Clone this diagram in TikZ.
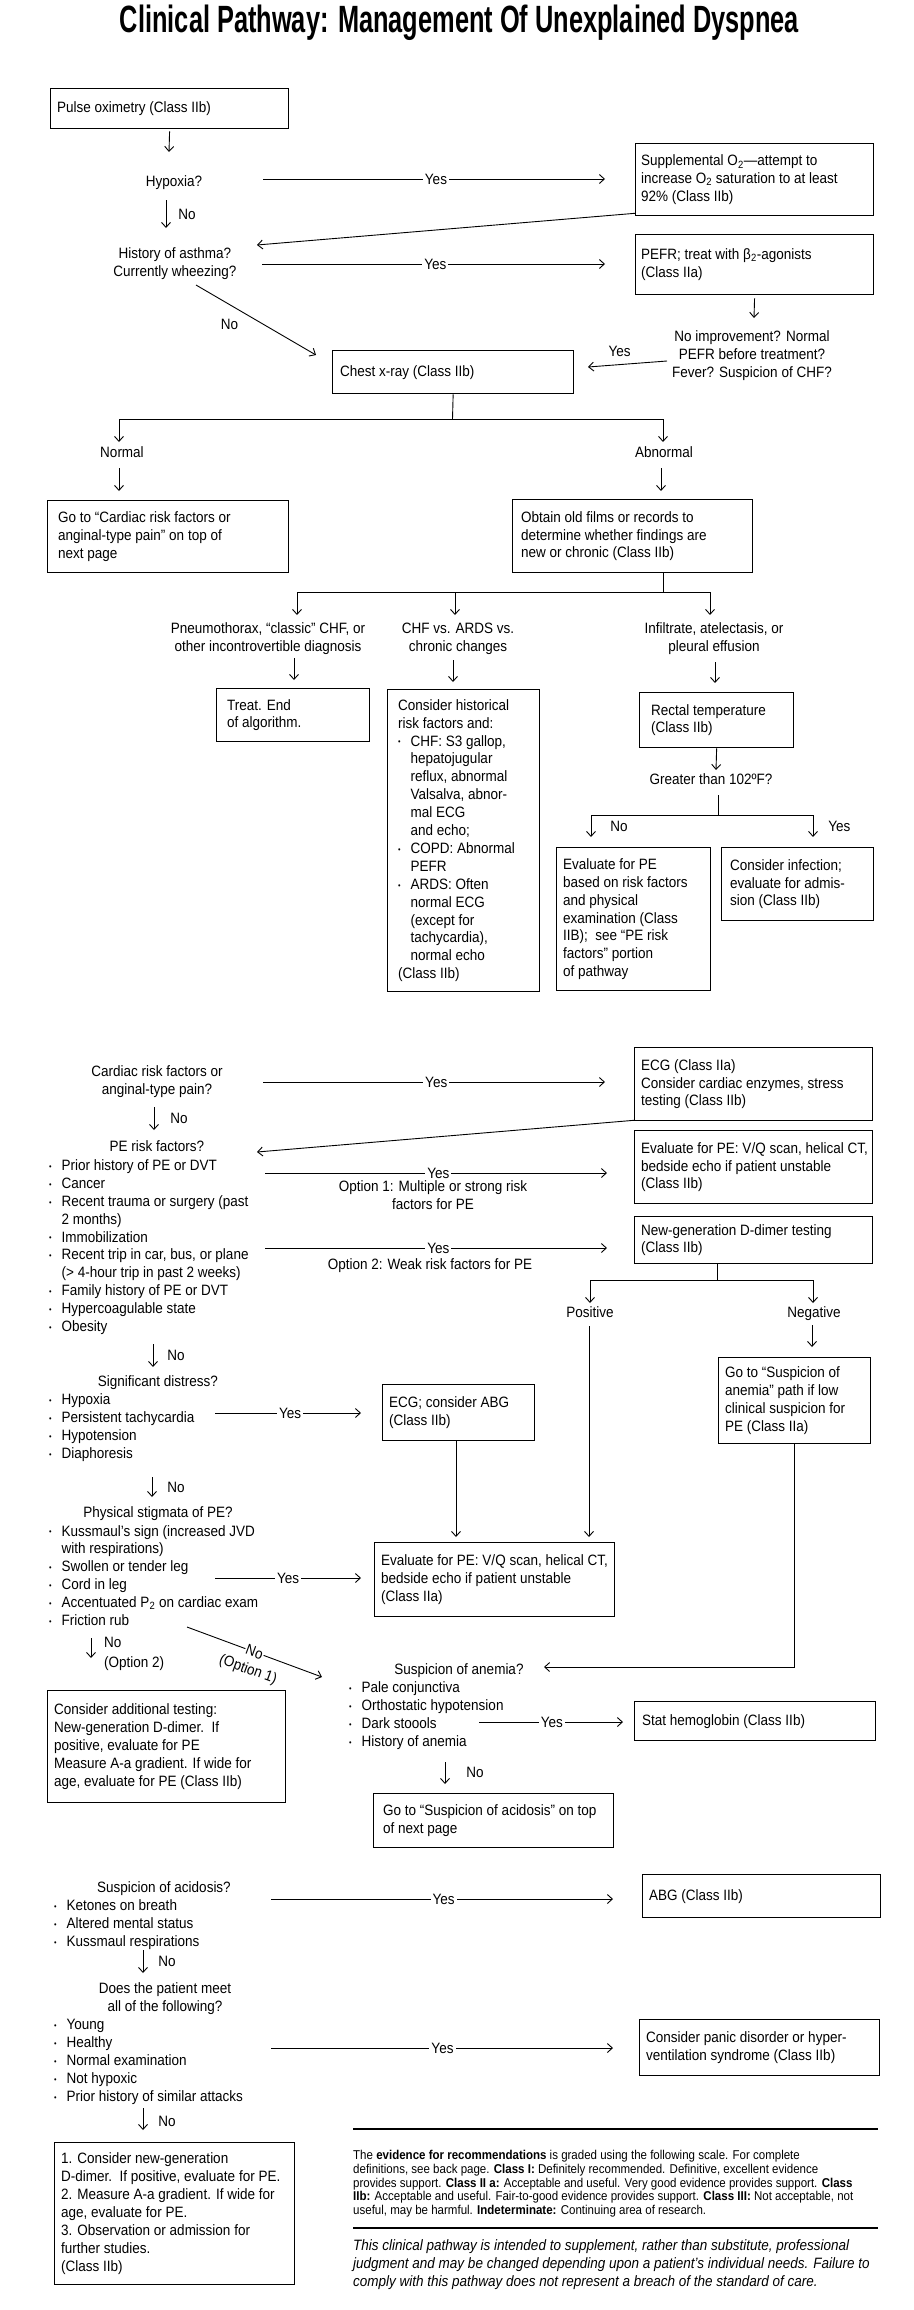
\documentclass[tikz,border=0pt]{standalone}
\usepackage{fontspec}
\setmainfont{Liberation Sans}[FakeStretch=0.9]
\usepackage{graphicx}
\usetikzlibrary{arrows.meta}
\newcommand{\bodyfont}{\fontsize{15}{17.9}\selectfont}
\newcommand{\evfont}{\fontsize{12.8}{13.6}\selectfont}
\newcommand{\bul}{\makebox[12.5pt][l]{\raisebox{1.2pt}{\fontsize{8}{8}\selectfont\textbullet}}}
\newcommand{\bind}{\hspace*{12.5pt}}
\newcommand{\tbx}[7]{%
  \node[boxst,minimum width=#4,minimum height=#5,anchor=north west] (#1) at (#2,#3) {};
  \node[txt,anchor=west] (#1-t) at ([xshift=#6]#1.west) {#7};}
\tikzset{
  boxst/.style={draw,line width=1.3pt,inner sep=0},
  txt/.style={inner sep=0,align=left,font=\bodyfont},
  ctxt/.style={inner sep=0,align=center,font=\bodyfont},
  arr/.style={line width=0.9pt,-{Straight Barb[length=5pt,width=9pt,line width=0.9pt]}},
  ln/.style={line width=0.9pt},
  yes/.style={fill=white,inner xsep=2pt,inner ysep=1pt,font=\bodyfont},
  lbl/.style={inner sep=0,font=\bodyfont,align=left},
}
\begin{document}
\begin{tikzpicture}[x=1pt,y=-1pt]
\fill[white] (0,0) rectangle (913,2310);
\useasboundingbox (0,0) rectangle (913,2310);

% title
\node[inner sep=0,anchor=base] (title) at (459.5,32.5) {\resizebox{679pt}{\height}{\fontsize{38}{42}\selectfont\bfseries Clinical Pathway: Management Of Unexplained Dyspnea}};

% boxes
\tbx{pulse}{50}{88}{238}{40}{7}{Pulse oximetry (Class IIb)}
\tbx{supp}{635}{143}{238}{72}{6}{Supplemental O\textsubscript{2}---attempt to\\increase O\textsubscript{2} saturation to at least\\92\% (Class IIb)}
\tbx{pefr}{635}{234}{238}{60}{6}{PEFR; treat with β\textsubscript{2}-agonists\\(Class IIa)}
\tbx{chest}{332}{350}{241}{43}{8}{Chest x-ray (Class IIb)}
\tbx{normbox}{47}{500}{241}{72}{11}{Go to ``Cardiac risk factors or\\anginal-type pain'' on top of\\next page}
\tbx{obtain}{512}{499}{240}{73}{9}{Obtain old films or records to\\determine whether findings are\\new or chronic (Class IIb)}
\tbx{treat}{216}{688}{153}{53}{11}{Treat. End\\of algorithm.}
\tbx{hist}{387}{689}{152}{302}{11}{Consider historical\\risk factors and:\\\bul CHF: S3 gallop,\\\bind hepatojugular\\\bind reflux, abnormal\\\bind Valsalva, abnor-\\\bind mal ECG\\\bind and echo;\\\bul COPD: Abnormal\\\bind PEFR\\\bul ARDS: Often\\\bind normal ECG\\\bind (except for\\\bind tachycardia),\\\bind normal echo\\(Class IIb)}
\tbx{rectal}{639}{692}{154}{55}{12}{Rectal temperature\\(Class IIb)}
\tbx{evalpeA}{556}{847}{154}{143}{7}{Evaluate for PE\\based on risk factors\\and physical\\examination (Class\\IIB);\ \ see ``PE risk\\factors'' portion\\of pathway}
\tbx{infect}{721}{847}{152}{73}{9}{Consider infection;\\evaluate for admis-\\sion (Class IIb)}
\tbx{ecg}{634}{1047}{238}{73}{7}{ECG (Class IIa)\\Consider cardiac enzymes, stress\\testing (Class IIb)}
\tbx{evalpeB}{634}{1130}{238}{73}{7}{Evaluate for PE: V/Q scan, helical CT,\\bedside echo if patient unstable\\(Class IIb)}
\tbx{ddimer}{634}{1216}{238}{47}{7}{New-generation D-dimer testing\\(Class IIb)}
\tbx{anemgo}{718}{1357}{152}{86}{7}{Go to ``Suspicion of\\anemia'' path if low\\clinical suspicion for\\PE (Class IIa)}
\tbx{ecgabg}{382}{1384}{152}{56}{7}{ECG; consider ABG\\(Class IIb)}
\tbx{evalpeC}{374}{1542}{240}{74}{7}{Evaluate for PE: V/Q scan, helical CT,\\bedside echo if patient unstable\\(Class IIa)}
\tbx{addtest}{47}{1690}{238}{112}{7}{Consider additional testing:\\New-generation D-dimer.\ \ If\\positive, evaluate for PE\\Measure A-a gradient. If wide for\\age, evaluate for PE (Class IIb)}
\tbx{stat}{634}{1701}{241}{39}{8}{Stat hemoglobin (Class IIb)}
\tbx{acidgo}{373}{1793}{240}{54}{10}{Go to ``Suspicion of acidosis'' on top\\of next page}
\tbx{abg}{642}{1874}{238}{43}{7}{ABG (Class IIb)}
\tbx{panic}{639}{2019}{240}{56}{7}{Consider panic disorder or hyper-\\ventilation syndrome (Class IIb)}
\tbx{final}{54}{2142}{240}{142}{7}{1. Consider new-generation\\D-dimer.\ \ If positive, evaluate for PE.\\2. Measure A-a gradient. If wide for\\age, evaluate for PE.\\3. Observation or admission for\\further studies.\\(Class IIb)}

% free texts (anchor base = baseline of the last line)
\node[ctxt,anchor=base] (hypq) at (174,186.5) {Hypoxia?};
\node[ctxt,anchor=base] (asthq) at (175,276) {History of asthma?\\Currently wheezing?};
\node[ctxt,anchor=base] (noimp) at (752,377.5) {No improvement? Normal\\PEFR before treatment?\\Fever? Suspicion of CHF?};
\node[ctxt,anchor=base] (normal) at (122,457.5) {Normal};
\node[ctxt,anchor=base] (abnormal) at (664,457.5) {Abnormal};
\node[ctxt,anchor=base] (pneumo) at (268,651.5) {Pneumothorax, ``classic'' CHF, or\\other incontrovertible diagnosis};
\node[ctxt,anchor=base] (chfv) at (458,651.5) {CHF vs. ARDS vs.\\chronic changes};
\node[ctxt,anchor=base] (infil) at (714,651.5) {Infiltrate, atelectasis, or\\pleural effusion};
\node[ctxt,anchor=base] (temp) at (711,784.5) {Greater than 102ºF?};
\node[ctxt,anchor=base] (cardq) at (157,1094.5) {Cardiac risk factors or\\anginal-type pain?};
\node[ctxt,anchor=base] (peq) at (157,1151.5) {PE risk factors?};
\node[txt,anchor=base west] (pelist) at (49,1331.5) {\bul Prior history of PE or DVT\\\bul Cancer\\\bul Recent trauma or surgery (past\\\bind 2 months)\\\bul Immobilization\\\bul Recent trip in car, bus, or plane\\\bind (> 4-hour trip in past 2 weeks)\\\bul Family history of PE or DVT\\\bul Hypercoagulable state\\\bul Obesity};
\node[ctxt,anchor=base] (opt1) at (433,1209.5) {Option 1: Multiple or strong risk\\factors for PE};
\node[ctxt,anchor=base] (opt2) at (430,1269.5) {Option 2: Weak risk factors for PE};
\node[ctxt,anchor=base] (pos) at (590,1317.5) {Positive};
\node[ctxt,anchor=base] (neg) at (814,1317.5) {Negative};
\node[ctxt,anchor=base] (distq) at (158,1386.5) {Significant distress?};
\node[txt,anchor=base west] (distlist) at (49,1458.5) {\bul Hypoxia\\\bul Persistent tachycardia\\\bul Hypotension\\\bul Diaphoresis};
\node[ctxt,anchor=base] (stigq) at (158,1517.5) {Physical stigmata of PE?};
\node[txt,anchor=base west] (stiglist) at (49,1625.5) {\bul Kussmaul’s sign (increased JVD\\\bind with respirations)\\\bul Swollen or tender leg\\\bul Cord in leg\\\bul Accentuated P\textsubscript{2} on cardiac exam\\\bul Friction rub};
\node[lbl,anchor=base west] (opt2lbl) at (104,1667.5) {No\\[2pt](Option 2)};
\node[ctxt,anchor=base] (anemq) at (459,1674.5) {Suspicion of anemia?};
\node[txt,anchor=base west] (anemlist) at (349,1746.5) {\bul Pale conjunctiva\\\bul Orthostatic hypotension\\\bul Dark stoools\\\bul History of anemia};
\node[ctxt,anchor=base] (acidq) at (164,1892.5) {Suspicion of acidosis?};
\node[txt,anchor=base west] (acidlist) at (54,1946.5) {\bul Ketones on breath\\\bul Altered mental status\\\bul Kussmaul respirations};
\node[ctxt,anchor=base] (meetq) at (165,2011.5) {Does the patient meet\\all of the following?};
\node[txt,anchor=base west] (meetlist) at (54,2101.5) {\bul Young\\\bul Healthy\\\bul Normal examination\\\bul Not hypoxic\\\bul Prior history of similar attacks};

% evidence notes
\coordinate (r1a) at (353,2129); \coordinate (r1b) at (878,2129);
\coordinate (r2a) at (353,2228); \coordinate (r2b) at (878,2228);
\draw[line width=1.2pt] (r1a) -- (r1b);
\draw[line width=1.2pt] (r2a) -- (r2b);
\node[anchor=base west,inner sep=0,align=left,font=\evfont] (evid) at (353,2214.2) {The \textbf{evidence for recommendations} is graded using the following scale. For complete\\definitions, see back page. \textbf{Class I:} Definitely recommended. Definitive, excellent evidence\\provides support. \textbf{Class II a:} Acceptable and useful. Very good evidence provides support. \textbf{Class}\\\textbf{IIb:} Acceptable and useful. Fair-to-good evidence provides support. \textbf{Class III:} Not acceptable, not\\useful, may be harmful. \textbf{Indeterminate:} Continuing area of research.};
\node[anchor=base west,inner sep=0,align=left,font=\bodyfont\itshape] (disc) at (353,2286.5) {This clinical pathway is intended to supplement, rather than substitute, professional\\judgment and may be changed depending upon a patient’s individual needs. Failure to\\comply with this pathway does not represent a breach of the standard of care.};

% connectors
\coordinate (c1) at (169,152);
\draw[arr,shorten <=2pt] (pulse.south) -- (c1);
\coordinate (c2) at (263,179);
\draw[arr,shorten >=30pt] (c2) -- node[yes,pos=.465]{Yes} (c2 -| supp.west);
\coordinate (c3a) at (166,200); \coordinate (c3b) at (166,228);
\draw[arr] (c3a) -- node[lbl,right=12pt]{No} (c3b);
\coordinate (c4) at (257,245);
\draw[arr] ([yshift=3pt]supp.south west) -- (c4);
\coordinate (c5) at (262,264);
\draw[arr,shorten >=30pt] (c5) -- node[yes,pos=.465]{Yes} (c5 -| pefr.west);
\coordinate (c6) at (754,318);
\draw[arr,shorten <=3pt] (pefr.south) -- (c6);
\coordinate (c7a) at (667,361); \coordinate (c7b) at (588,367);
\draw[arr] (c7a) -- node[lbl,pos=.6,above=8pt]{Yes} (c7b);
\coordinate (c8a) at (196,285); \coordinate (c8b) at (316,355);
\draw[arr] (c8a) -- node[lbl,pos=.28,yshift=-20pt]{No} (c8b);
\coordinate (c9) at (452.5,419); \coordinate (c9l) at (119,442); \coordinate (c9r) at (663,442);
\draw[ln] (chest.south) -- (c9);
\draw[arr] (c9) -| (c9l);
\draw[arr] (c9) -| (c9r);
\coordinate (c10a) at (119,468);
\draw[arr,shorten >=9pt] (c10a) -- (c10a |- normbox.north);
\coordinate (c10b) at (661,468);
\draw[arr,shorten >=8pt] (c10b) -- (c10b |- obtain.north);
\coordinate (c11) at (663,592);
\draw[ln] (c11 |- obtain.south) -- (c11);
\coordinate (c11a) at (297,615); \coordinate (c11b) at (455,615); \coordinate (c11c) at (710,615);
\draw[arr] (c11) -| (c11a);
\draw[arr] (c11) -| (c11c);
\draw[arr] (c11b |- c11) -- (c11b);
\coordinate (c12a) at (294,658);
\draw[arr,shorten >=8pt] (c12a) -- (c12a |- treat.north);
\coordinate (c12b) at (453,660);
\draw[arr,shorten >=7pt] (c12b) -- (c12b |- hist.north);
\coordinate (c12c) at (715,662);
\draw[arr,shorten >=9pt] (c12c) -- (c12c |- rectal.north);
\coordinate (c13) at (716,770);
\draw[arr] (rectal.south) -- (c13);
\coordinate (c14a) at (718,795); \coordinate (c14b) at (718,815);
\draw[ln] (c14a) -- (c14b);
\coordinate (c14l) at (591,837); \coordinate (c14r) at (813,837);
\draw[arr] (c14b) -| node[lbl,pos=.75,right=19pt]{No} (c14l);
\draw[arr] (c14b) -| node[lbl,pos=.75,right=15pt]{Yes} (c14r);
\coordinate (c15) at (263,1082);
\draw[arr,shorten >=29pt] (c15) -- node[yes,pos=.467]{Yes} (c15 -| ecg.west);
\coordinate (c16a) at (154,1107); \coordinate (c16b) at (154,1130);
\draw[arr] (c16a) -- node[lbl,right=16pt]{No} (c16b);
\coordinate (c17) at (257,1152);
\draw[arr] ([yshift=1pt]ecg.south west) -- (c17);
\coordinate (c18) at (265,1173);
\draw[arr,shorten >=27pt] (c18) -- node[yes,pos=.47]{Yes} (c18 -| evalpeB.west);
\coordinate (c19) at (265,1248);
\draw[arr,shorten >=27pt] (c19) -- node[yes,pos=.47]{Yes} (c19 -| ddimer.west);
\coordinate (c20) at (717,1280);
\draw[ln] (c20 |- ddimer.south) -- (c20);
\coordinate (c20l) at (590,1303); \coordinate (c20r) at (813,1303);
\draw[arr] (c20) -| (c20l);
\draw[arr] (c20) -| (c20r);
\coordinate (c21) at (812,1325);
\draw[arr,shorten >=10pt] (c21) -- (c21 |- anemgo.north);
\coordinate (c22) at (589,1326);
\draw[arr,shorten >=5pt] (c22) -- (c22 |- evalpeC.north);
\coordinate (c23) at (456,1440);
\draw[arr,shorten >=5pt] (c23) -- (c23 |- evalpeC.north);
\coordinate (c24) at (544,1667);
\draw[arr] (anemgo.south) -- (anemgo.south |- c24) -- (c24);
\coordinate (c25a) at (153,1344); \coordinate (c25b) at (153,1367);
\draw[arr] (c25a) -- node[lbl,right=14pt]{No} (c25b);
\coordinate (c26) at (215,1413);
\draw[arr,shorten >=21pt] (c26) -- node[yes,pos=.45]{Yes} (c26 -| ecgabg.west);
\coordinate (c27a) at (152,1477); \coordinate (c27b) at (152,1497);
\draw[arr] (c27a) -- node[lbl,right=15pt]{No} (c27b);
\coordinate (c28) at (215,1578);
\draw[arr,shorten >=13pt] (c28) -- node[yes,pos=.46]{Yes} (c28 -| evalpeC.west);
\coordinate (c29a) at (91,1638); \coordinate (c29b) at (91,1658);
\draw[arr] (c29a) -- (c29b);
\coordinate (c30a) at (187,1627); \coordinate (c30b) at (322,1677);
\draw[arr] (c30a) -- node[yes,sloped,pos=.5,inner xsep=1pt,inner ysep=0pt]{No} (c30b);
\node[lbl,rotate=-20] (opt1lbl) at (248,1670) {(Option 1)};
\coordinate (c31) at (479,1722);
\draw[arr,shorten >=11pt] (c31) -- node[yes,pos=.47]{Yes} (c31 -| stat.west);
\coordinate (c32) at (445,1762);
\draw[arr,shorten >=9pt] (c32) -- node[lbl,pos=.35,right=21pt]{No} (c32 |- acidgo.north);
\coordinate (c33) at (271,1899);
\draw[arr,shorten >=29pt] (c33) -- node[yes,pos=.465]{Yes} (c33 -| abg.west);
\coordinate (c34a) at (143,1950); \coordinate (c34b) at (143,1973);
\draw[arr] (c34a) -- node[lbl,right=15pt]{No} (c34b);
\coordinate (c35) at (271,2048);
\draw[arr,shorten >=26pt] (c35) -- node[yes,pos=.466]{Yes} (c35 -| panic.west);
\coordinate (c36) at (143,2108);
\draw[arr,shorten >=12pt] (c36) -- node[lbl,pos=.4,right=15pt]{No} (c36 |- final.north);
\end{tikzpicture}
\end{document}
